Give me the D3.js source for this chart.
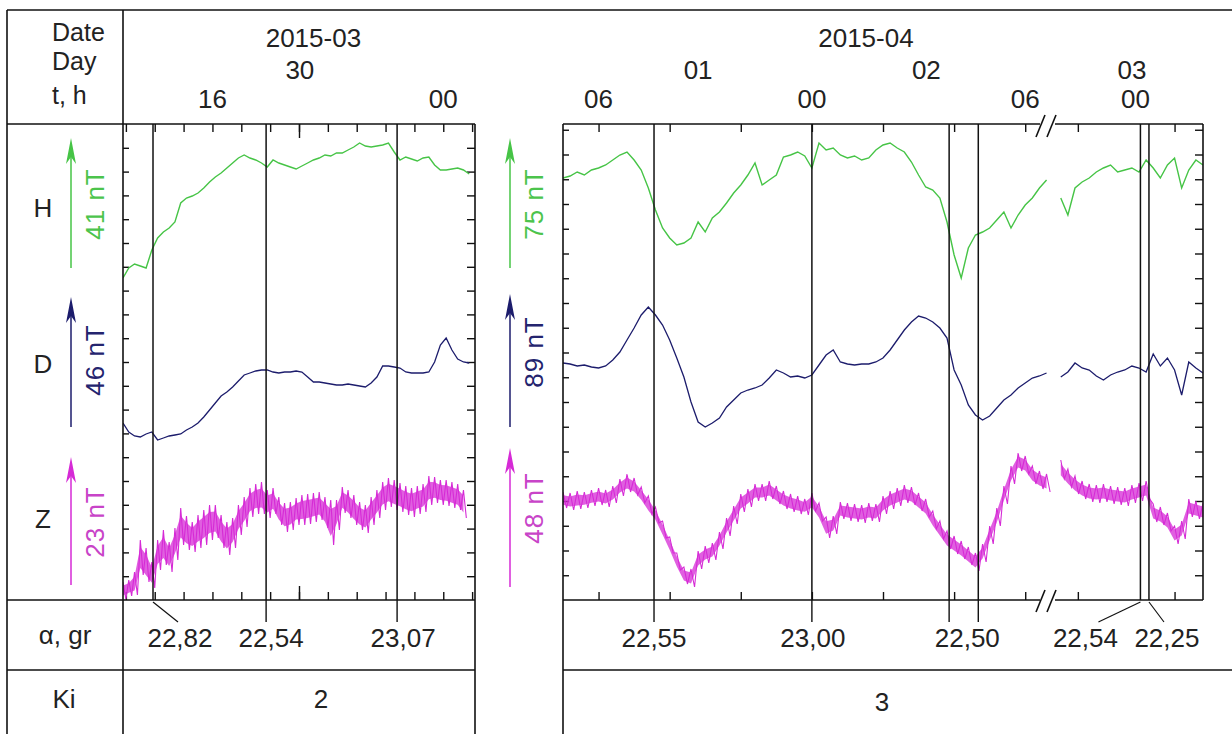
<!DOCTYPE html>
<html>
<head>
<meta charset="utf-8">
<script src="https://cdn.jsdelivr.net/npm/d3@7/dist/d3.min.js"></script>
<style>
body { margin: 0; background: #fff; }
svg text { font-family: "Liberation Sans", Arial, sans-serif; fill: #222; }
</style>
</head>
<body>
<script>
// ---------------------------------------------------------------
// Data (levels = height above panel bottom)

// left panel, 2015-03-30, hours UT, one sample every 0.2 h
var leftStart = 12.9, leftStep = 0.2;
var leftH = [322,332,336,334,332,350,362,368,372,378, 397,402,404,407,412,418,423,427,432,437,
             442,445,442,440,437,433,440,437,435,433, 431,434,437,440,442,445,444,447,447,450,
             453,457,454,453,454,455,457,448,440,443, 441,439,442,443,435,430,430,431,432,430, 426];
var leftD = [177,168,164,163,166,168,160,162,164,165, 166,170,173,177,183,190,197,204,208,213,
             219,225,227,229,230,230,228,227,228,228, 229,228,223,218,218,217,216,215,215,216,
             215,214,213,217,223,234,234,233,232,228, 227,227,227,228,238,255,262,250,241,238, 237];
var leftZhi = [18,20,28,60,52,38,60,70,58,72, 92,84,78,85,90,95,95,85,78,82,
               95,103,112,116,118,110,112,103,97,98, 102,105,106,107,108,103,100,100,113,110,
               105,98,95,103,110,118,122,120,117,114, 112,114,116,124,123,120,120,118,116,110];
var leftZlo = [1,4,5,25,18,12,30,35,28,40, 55,50,48,52,55,60,62,52,45,52,
               65,73,83,86,86,82,86,75,68,70, 75,75,76,78,80,72,55,70,87,82,
               75,70,67,75,82,90,93,90,88,85, 83,86,88,95,97,95,94,92,90,82];

// right panel, 2015-04-01..03, time in axis divisions, one sample every 0.1
var rightStart = -0.5, rightStep = 0.1;
var rightH = [422,424,428,425,430,432,435,440,445,448, 440,430,412,390,372,362,355,357,362,378,
              368,382,388,397,407,415,425,437,415,420, 425,443,445,448,444,432,457,450,452,445,
              442,444,440,442,450,455,457,452,448,438, 425,413,410,402,378,345,322,352,365,368,
              372,380,388,372,385,395,402,412,420,null, 402,385,412,418,422,428,432,435,428,430,
              432,428,440,432,422,435,442,412,430,440, 435];
var rightD = [237,236,234,235,233,232,234,240,248,260, 272,285,293,285,275,260,242,223,198,178,
              173,177,182,193,200,207,210,212,215,222, 230,227,223,224,222,225,235,245,250,238,
              236,235,236,236,238,242,250,260,270,278, 284,282,278,272,262,230,215,195,185,180,
              184,192,200,205,212,217,222,224,227,null, 223,228,237,232,230,224,220,225,228,230,
              234,232,228,246,234,242,230,205,238,232, 227];
var rightZhi = [108,107,109,108,110,112,110,114,121,126, 122,113,104,93,79,63,47,33,31,49,
                54,57,68,82,94,106,111,116,116,119, 114,109,106,104,101,107,97,83,84,98,
                97,96,95,97,96,104,109,112,115,113, 107,101,89,79,69,64,59,53,47,56,
                74,92,114,134,147,144,134,129,126,null, 140,131,124,119,116,115,116,114,113,112,
                115,117,119,96,93,87,74,79,101,99, 97];
var rightZlo = [92,90,91,92,94,95,93,97,104,108, 105,97,86,77,62,47,30,16,13,31,
                37,40,51,64,76,88,93,99,99,101, 96,91,88,86,85,89,79,62,66,81,
                79,78,77,79,78,86,91,94,97,95, 89,83,71,61,51,46,41,35,29,38,
                56,74,96,116,129,126,116,111,108,null, 121,113,106,101,98,97,98,96,95,94,
                97,99,101,78,75,69,56,61,83,81, 79];

// time marks with declination alpha
var leftEvents = [13.94, 17.86, 22.4];
var leftAlpha = ["22,82", "22,54", "23,07"];
var rightEvents = [0.78, 3.0, 4.93, 5.34, 7.62, 7.74];
var rightAlpha = ["22,55", "23,00", "", "22,50", "22,54", "22,25"];

// header labels
var leftHours = [16, 24], leftHourText = ["16", "00"];
var leftDays = [19.03], leftDayText = ["30"];
var leftMonth = 19.5, leftMonthText = "2015-03";
var rightHours = [0, 3, 6, 7.55], rightHourText = ["06", "00", "06", "00"];
var rightDays = [1.4, 4.61, 7.5], rightDayText = ["01", "02", "03"];
var rightMonth = 3.76, rightMonthText = "2015-04";

var kiText = ["2", "3"];
var scaleText = [["41 nT", "46 nT", "23 nT"], ["75 nT", "89 nT", "48 nT"]];

// ---------------------------------------------------------------
var colH = "#46c446", colD = "#1c1c6c", colZ = "#d62ad6";
var yTop = 124, yBot = 600;

var svg = d3.select("body").append("svg")
    .attr("width", 1232)
    .attr("height", 734);
svg.append("rect").attr("width", 1232).attr("height", 734).attr("fill", "#fff");

var xL = d3.scaleLinear().domain([12.9, 25.1]).range([123, 475]);
var xR = d3.scaleLinear().domain([-0.5, 8.5]).range([563, 1203]);
var y = d3.scaleLinear().domain([0, 476]).range([yBot, yTop]);

var defs = svg.append("defs");
defs.append("clipPath").attr("id", "clipL").append("rect")
    .attr("x", 123).attr("y", yTop).attr("width", 352).attr("height", yBot - yTop);
defs.append("clipPath").attr("id", "clipR").append("rect")
    .attr("x", 563).attr("y", yTop).attr("width", 640).attr("height", yBot - yTop);

function tracePath(vals, start, step, x)
{
    return d3.line()
        .defined(function(v) { return v !== null; })
        .x(function(v, i) { return x(start + i * step); })
        .y(function(v) { return y(v); })(vals);
}

// noisy Z: filled envelope plus zigzag between read upper and lower values
function bandArea(hi, lo, start, step, x)
{
    return d3.area()
        .defined(function(v) { return v !== null; })
        .x(function(v, i) { return x(start + i * step); })
        .y0(function(v, i) { return y(lo[i] + (v - lo[i]) * 0.2); })
        .y1(function(v, i) { return y(v - (v - lo[i]) * 0.2); })(hi);
}

function bandPath(hi, lo, start, step, x)
{
    var pts = [];
    hi.forEach(function(v, i)
    {
        if (v === null) { pts.push(null); return; }
        var t = start + i * step;
        pts.push([x(t), y(v)]);
        pts.push([x(t + step / 2), y(lo[i])]);
    });
    return d3.line()
        .defined(function(p) { return p !== null; })
        .x(function(p) { return p[0]; })
        .y(function(p) { return p[1]; })(pts);
}

function ticks(g, x, xt, longT, yStep)
{
    g.append("g").attr("transform", "translate(0," + yTop + ")")
        .call(d3.axisTop(x).tickValues(xt).tickSize(-8).tickFormat(""));
    g.append("g").attr("transform", "translate(0," + yBot + ")")
        .call(d3.axisBottom(x).tickValues(xt).tickSize(-8).tickFormat(""));
    g.append("g").attr("transform", "translate(0," + yTop + ")")
        .call(d3.axisTop(x).tickValues(longT).tickSize(-14).tickFormat(""));
    g.append("g").attr("transform", "translate(0," + yBot + ")")
        .call(d3.axisBottom(x).tickValues(longT).tickSize(-14).tickFormat(""));
    var yt = d3.range(yStep, 476, yStep);
    g.append("g").attr("transform", "translate(" + x.range()[0] + ",0)")
        .call(d3.axisLeft(y).tickValues(yt).tickSize(-6).tickFormat(""));
    g.append("g").attr("transform", "translate(" + x.range()[1] + ",0)")
        .call(d3.axisRight(y).tickValues(yt).tickSize(-8).tickFormat(""));
    g.selectAll(".domain").remove();
    g.selectAll(".tick line").attr("stroke", "#111").attr("stroke-width", 1.4);
}

var tL = svg.append("g");
ticks(tL, xL, d3.range(13, 26), [19], 23.8);
var tR = svg.append("g");
ticks(tR, xR, [0, 1, 2, 3, 4, 5, 6, 6.74, 8.1], [], 24.75);

// traces
function drawPanel(clip, H, D, Zhi, Zlo, start, step, x)
{
    var p = svg.append("g").attr("clip-path", "url(#" + clip + ")");
    p.append("path").attr("d", bandArea(Zhi, Zlo, start, step, x))
        .attr("fill", colZ).attr("fill-opacity", 0.75);
    p.append("path").attr("d", bandPath(Zhi, Zlo, start, step, x))
        .attr("fill", "none").attr("stroke", colZ).attr("stroke-width", 1.1);
    p.append("path").attr("d", tracePath(H, start, step, x))
        .attr("fill", "none").attr("stroke", colH).attr("stroke-width", 1.4);
    p.append("path").attr("d", tracePath(D, start, step, x))
        .attr("fill", "none").attr("stroke", colD).attr("stroke-width", 1.3);
}
drawPanel("clipL", leftH, leftD, leftZhi, leftZlo, leftStart, leftStep, xL);
drawPanel("clipR", rightH, rightD, rightZhi, rightZlo, rightStart, rightStep, xR);

// table and frames
var grid = [
    [7, 10, 1232, 10], [7, 10, 7, 734], [123, 10, 123, 734],
    [7, 124, 475, 124], [7, 600, 475, 600], [7, 670, 475, 670], [475, 124, 475, 734],
    [563, 124, 563, 734], [563, 124, 1040, 124], [1055, 124, 1203, 124],
    [563, 600, 1040, 600], [1055, 600, 1203, 600], [1203, 124, 1203, 600],
    [563, 670, 1232, 670],
    [1036, 137, 1045, 115], [1047, 137, 1056, 115], [1036, 612, 1045, 590], [1047, 612, 1056, 590]
];
svg.selectAll(".grid").data(grid).enter().append("line")
    .attr("x1", function(d) { return d[0]; }).attr("y1", function(d) { return d[1]; })
    .attr("x2", function(d) { return d[2]; }).attr("y2", function(d) { return d[3]; })
    .attr("stroke", "#111").attr("stroke-width", 1.6);

// event lines, alpha labels
function events(times, labels, x, layout)
{
    times.forEach(function(t, i)
    {
        var xp = x(t), lay = layout[i];
        svg.append("line").attr("x1", xp).attr("x2", xp).attr("y1", yTop).attr("y2", yBot)
            .attr("stroke", "#111").attr("stroke-width", 1.5);
        if (lay.lead)
        {
            svg.append("line").attr("x1", xp).attr("y1", yBot + 2)
                .attr("x2", xp + lay.lead).attr("y2", yBot + 22)
                .attr("stroke", "#111").attr("stroke-width", 1.2);
        }
        else
        {
            svg.append("line").attr("x1", xp).attr("x2", xp).attr("y1", yBot).attr("y2", yBot + 22)
                .attr("stroke", "#111").attr("stroke-width", 1.4);
        }
        if (labels[i])
        {
            svg.append("text").attr("x", xp + lay.dx).attr("y", 647)
                .attr("text-anchor", "middle").attr("font-size", 26).text(labels[i]);
        }
    });
}
events(leftEvents, leftAlpha, xL, [{lead: 25, dx: 27}, {dx: 5}, {dx: 6}]);
events(rightEvents, rightAlpha, xR,
    [{dx: 0}, {dx: 1}, {dx: 0}, {dx: -11}, {lead: -42, dx: -55}, {lead: 15, dx: 18}]);

// header
function header(x, hours, hourText, days, dayText, month, monthText)
{
    svg.append("text").attr("x", x(month)).attr("y", 47).attr("text-anchor", "middle")
        .attr("font-size", 26).text(monthText);
    days.forEach(function(d, i)
    {
        svg.append("text").attr("x", x(d)).attr("y", 79).attr("text-anchor", "middle")
            .attr("font-size", 26).text(dayText[i]);
    });
    hours.forEach(function(h, i)
    {
        svg.append("text").attr("x", x(h)).attr("y", 108).attr("text-anchor", "middle")
            .attr("font-size", 26).text(hourText[i]);
    });
}
header(xL, leftHours, leftHourText, leftDays, leftDayText, leftMonth, leftMonthText);
header(xR, rightHours, rightHourText, rightDays, rightDayText, rightMonth, rightMonthText);

var leftCol = [["Date", 52, 41, "start", 25], ["Day", 52, 70, "start", 25], ["t, h", 52, 104, "start", 25],
               ["H", 43, 217, "middle", 26], ["D", 43, 373, "middle", 26], ["Z", 43, 528, "middle", 26],
               ["\u03b1, gr", 65, 644, "middle", 26], ["Ki", 64, 708, "middle", 26]];
svg.selectAll(".lab").data(leftCol).enter().append("text")
    .attr("x", function(d) { return d[1]; }).attr("y", function(d) { return d[2]; })
    .attr("text-anchor", function(d) { return d[3]; })
    .attr("font-size", function(d) { return d[4]; }).text(function(d) { return d[0]; });

svg.append("text").attr("x", 321).attr("y", 708).attr("text-anchor", "middle")
    .attr("font-size", 26).text(kiText[0]);
svg.append("text").attr("x", 882).attr("y", 711).attr("text-anchor", "middle")
    .attr("font-size", 26).text(kiText[1]);

// scale arrows
var arrowCols = [colH, colD, colZ];
var arrowText = ["#4cc44c", "#24246e", "#c844c8"];
var arrowSpan = [[[138, 268], [297, 427], [457, 585]], [[138, 268], [294, 427], [448, 587]]];
var arrowTextY = [[204, 360, 522], [204, 352, 508]];
[71, 510].forEach(function(ax, p)
{
    arrowSpan[p].forEach(function(s, i)
    {
        svg.append("line").attr("x1", ax).attr("x2", ax).attr("y1", s[0] + 10).attr("y2", s[1])
            .attr("stroke", arrowCols[i]).attr("stroke-width", 1.5);
        svg.append("path")
            .attr("d", "M" + ax + "," + s[0] + " L" + (ax - 5) + "," + (s[0] + 26) +
                " L" + ax + "," + (s[0] + 19) + " L" + (ax + 5) + "," + (s[0] + 26) + " Z")
            .attr("fill", arrowCols[i]);
        svg.append("text")
            .attr("transform", "translate(" + (ax + 33) + "," + arrowTextY[p][i] + ") rotate(-90)")
            .attr("text-anchor", "middle").attr("font-size", 26)
            .attr("letter-spacing", 1)
            .style("fill", arrowText[i]).text(scaleText[p][i]);
    });
});
</script>
</body>
</html>
